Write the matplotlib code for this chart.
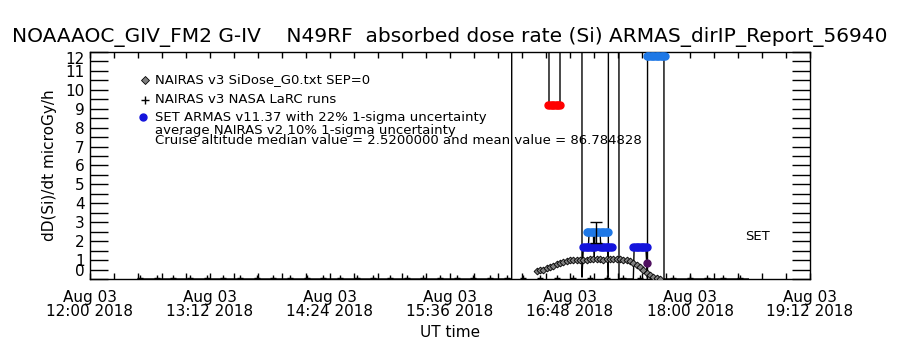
import numpy as np
import pandas as pd
import matplotlib
matplotlib.use("Agg")
import matplotlib.pyplot as plt
import matplotlib.dates as mdates

DAY = "2018-08-03 "

# NAIRAS v3 SiDose_G0 model along the flight track
nairas_t = ["16:28", "16:30", "16:32", "16:34", "16:36", "16:38", "16:40", "16:42",
            "16:44", "16:46", "16:48", "16:50", "16:52", "16:54", "16:56", "16:58",
            "17:00", "17:02", "17:04", "17:06", "17:08", "17:10", "17:12", "17:14",
            "17:16", "17:18", "17:20", "17:22", "17:24", "17:26", "17:28", "17:30",
            "17:32", "17:34", "17:36", "17:38", "17:40", "17:42"]
nairas_v = [0.42, 0.45, 0.50, 0.56, 0.63, 0.70, 0.77, 0.84,
            0.90, 0.95, 0.98, 1.00, 1.00, 1.00, 1.01, 1.02,
            1.05, 1.06, 1.04, 1.03, 1.02, 1.04, 1.06, 1.08,
            1.07, 1.05, 1.02, 0.98, 0.93, 0.86, 0.76, 0.62,
            0.48, 0.34, 0.22, 0.12, 0.05, 0.02]

# NAIRAS v3 NASA LaRC runs
larc_t = ["12:30", "12:40", "12:50", "13:00", "13:10", "13:20", "13:30", "13:40",
          "13:50", "14:00", "14:10", "14:20", "14:30", "14:40", "14:50", "15:00",
          "15:10", "15:20", "15:30", "15:40", "15:50", "16:00", "16:10", "16:20",
          "16:30", "16:40", "16:50", "17:00", "17:10", "17:20", "17:30", "17:40",
          "17:50", "18:00", "18:10", "18:20", "18:30"]
larc_v = [0.03, 0.03, 0.03, 0.03, 0.03, 0.03, 0.03, 0.03,
          0.03, 0.03, 0.03, 0.03, 0.03, 0.03, 0.03, 0.03,
          0.03, 0.03, 0.03, 0.03, 0.03, 0.03, 0.03, 0.03,
          0.03, 0.03, 0.03, 0.03, 0.03, 0.03, 0.03, 0.03,
          0.03, 0.03, 0.03, 0.03, 0.03]

# ARMAS dose rate record (values above 12 run off the top)
armas_t = ["12:29:00", "16:13:00", "16:13:20", "16:35:00", "16:35:24", "16:42:00",
           "16:42:20", "16:55:00", "16:55:12", "16:56:00", "16:59:00", "16:59:30",
           "17:02:00", "17:02:30", "17:03:00", "17:06:00", "17:06:30", "17:10:30",
           "17:11:00", "17:11:24", "17:17:00", "17:17:24", "17:26:00", "17:26:30",
           "17:33:30", "17:34:00", "17:34:30", "17:34:48", "17:44:00", "17:44:24",
           "18:35:00"]
armas_v = [0.0, 0.0, 150.0, 150.0, 9.2, 9.2,
           150.0, 150.0, 0.1, 1.7, 1.7, 2.5,
           2.5, 1.0, 2.5, 2.5, 1.7, 1.7,
           0.1, 150.0, 150.0, 0.0, 0.0, 1.7,
           1.7, 0.86, 0.0, 150.0, 150.0, 0.0,
           0.0]

# ARMAS points by flag
red_t = ["16:35", "16:36", "16:37", "16:38", "16:39", "16:40", "16:41", "16:42"]
red_v = [9.2, 9.2, 9.2, 9.2, 9.2, 9.2, 9.2, 9.2]
blue_t = ["16:56", "16:57", "16:58", "16:59", "17:00", "17:01", "17:02", "17:03",
          "17:06", "17:07", "17:08", "17:09", "17:10", "17:11", "17:12", "17:13",
          "17:26", "17:27", "17:28", "17:29", "17:30", "17:31", "17:32", "17:33", "17:34"]
blue_v = [1.7] * 25
lblue_t = ["16:58", "16:59", "17:00", "17:01", "17:02", "17:03", "17:04", "17:05",
           "17:06", "17:07", "17:08", "17:09", "17:10", "17:11",
           "17:34", "17:35", "17:36", "17:37", "17:38", "17:39", "17:40", "17:41",
           "17:42", "17:43", "17:44", "17:45"]
lblue_v = [2.5] * 14 + [11.8] * 12
purple_t = ["17:34"]
purple_v = [0.86]

# average NAIRAS v2 with 10% uncertainty
err_t = ["17:03:36"]
err_v = [2.45]
err_e = [0.55]


def tt(lst):
    return pd.to_datetime([DAY + s for s in lst])


fig = plt.figure(figsize=(9, 3.5), dpi=100)
ax = fig.add_axes([0.1, 0.2029, 0.8, 0.6486])

ax.plot(tt(armas_t), armas_v, color="black", lw=1.0, zorder=2)
ax.plot(tt(larc_t), larc_v, ls="none", marker="+", ms=5, mew=1.0, color="black", zorder=3)
ax.plot(tt(nairas_t), nairas_v, ls="none", marker="D", ms=3.5, mfc="gray", mec="black",
        mew=0.6, zorder=4)
ax.plot(tt(red_t), red_v, ls="none", marker="o", ms=5, color="#ff0000", zorder=5)
ax.plot(tt(blue_t), blue_v, ls="none", marker="o", ms=5, color="#1414dc", zorder=5)
ax.plot(tt(lblue_t), lblue_v, ls="none", marker="o", ms=5, color="#1e78e6", zorder=5)
ax.plot(tt(purple_t), purple_v, ls="none", marker="o", ms=5, color="#501060", zorder=6)
ax.errorbar(tt(err_t), err_v, yerr=err_e, fmt="none", ecolor="black", elinewidth=1,
            capsize=4, zorder=7)

# axes
x0 = pd.Timestamp(DAY + "12:00")
x1 = pd.Timestamp(DAY + "19:12")
ax.set_xlim(x0, x1)
ax.set_ylim(0, 12)
ax.set_xticks(pd.date_range(x0, x1, freq="72min"))
ax.set_xticks(pd.date_range(x0, x1, freq="864s"), minor=True)
ax.xaxis.set_major_formatter(mdates.DateFormatter("%b %d\n%H:%M %Y"))
ax.set_yticks(np.arange(0, 13, 1))
ax.set_yticks(np.arange(0, 12.01, 0.5), minor=True)
ax.tick_params(axis="x", which="both", direction="in", top=True, length=4, width=1,
               labelsize=11, pad=8)
ax.tick_params(axis="y", which="both", direction="in", right=True, length=13, width=1,
               labelsize=11, pad=4)
for lab in ax.get_xticklabels():
    lab.set_linespacing(0.95)
ylabs = ax.get_yticklabels()
ylabs[0].set_va("bottom")
ylabs[-1].set_va("top")
for sp in ax.spines.values():
    sp.set_linewidth(1)

ax.set_xlabel("UT time", fontsize=11, labelpad=4)
ax.set_ylabel("dD(Si)/dt microGy/h", fontsize=11, labelpad=6)
fig.text(0.5, 0.895, "NOAAAOC_GIV_FM2 G-IV    N49RF  absorbed dose rate (Si) ARMAS_dirIP_Report_56940",
         ha="center", va="center", fontsize=14.5)

# legend block
ax.plot([0.076], [0.877], transform=ax.transAxes, marker="D", ms=4, mfc="gray", mec="black",
        mew=0.6, clip_on=False)
ax.plot([0.076], [0.789], transform=ax.transAxes, marker="+", ms=6, color="black", clip_on=False)
ax.plot([0.074], [0.712], transform=ax.transAxes, marker="o", ms=5, color="#1414dc", clip_on=False)
tk = dict(transform=ax.transAxes, fontsize=9.5, va="center", ha="left")
ax.text(0.09, 0.877, "NAIRAS v3 SiDose_G0.txt SEP=0", **tk)
ax.text(0.09, 0.789, "NAIRAS v3 NASA LaRC runs", **tk)
ax.text(0.09, 0.712, "SET ARMAS v11.37 with 22% 1-sigma uncertainty", **tk)
ax.text(0.09, 0.652, "average NAIRAS v2 10% 1-sigma uncertainty", **tk)
ax.text(0.09, 0.608, "Cruise altitude median value = 2.5200000 and mean value = 86.784828", **tk)
ax.text(0.91, 0.185, "SET", **tk)

fig.savefig("out.png", dpi=100)
